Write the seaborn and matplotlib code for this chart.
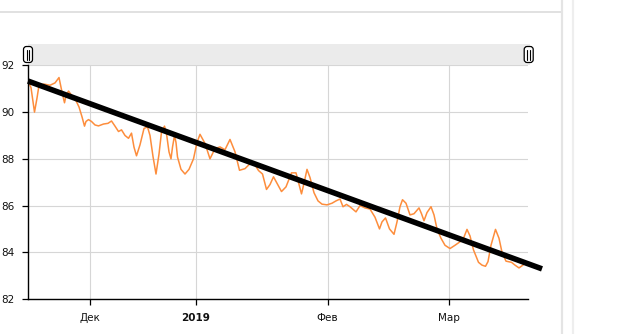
import matplotlib
matplotlib.use("Agg")
import matplotlib.pyplot as plt
from matplotlib.patches import Rectangle, FancyBboxPatch
import seaborn as sns
import pandas as pd

# Price series sampled along the session axis (0..100)
session = [0.0, 0.6, 1.3, 1.8, 2.2, 3.2, 4.4, 5.4, 6.2, 6.8, 7.3, 7.6, 8.1, 8.8, 9.4,
           10.2, 10.8, 11.3, 11.6, 12.1, 12.7, 13.4, 14.1, 15.1, 16.0, 16.7, 17.4, 18.1,
           18.7, 19.4, 20.1, 20.7, 21.2, 21.7, 22.4, 23.2, 23.9, 24.4, 25.0, 25.6, 26.2,
           26.7, 27.3, 27.7, 28.2, 28.6, 28.9, 29.3, 29.6, 29.9, 30.6, 31.4, 32.2, 33.1,
           33.8, 34.4, 35.4, 36.4, 37.4, 38.4, 39.4, 40.4, 41.4, 42.3, 43.4, 44.2, 45.1,
           46.1, 46.9, 47.7, 48.4, 49.1, 49.8, 50.7, 51.6, 52.7, 53.6, 54.2, 54.7, 55.2,
           55.8, 56.4, 57.2, 58.0, 58.8, 59.8, 60.8, 61.6, 62.4, 63.0, 63.7, 64.4, 65.6,
           66.4, 67.4, 68.4, 69.4, 70.3, 70.8, 71.5, 72.3, 73.2, 73.8, 74.4, 74.9, 75.6,
           76.4, 77.2, 78.2, 78.7, 79.2, 79.8, 80.6, 81.2, 81.8, 82.6, 83.4, 84.4, 85.4,
           86.4, 87.1, 87.8, 88.4, 89.1, 90.1, 90.8, 91.5, 92.0, 92.6, 93.5, 94.2, 94.8,
           95.6, 96.7, 97.4, 98.2, 99.1]
price = [91.33, 91.05, 90.0, 90.6, 91.15, 91.2, 91.15, 91.25, 91.48, 90.86, 90.4, 90.7,
         90.9, 90.7, 90.58, 90.22, 89.8, 89.4, 89.6, 89.68, 89.6, 89.45, 89.41, 89.49,
         89.52, 89.62, 89.4, 89.17, 89.24, 89.0, 88.88, 89.1, 88.5, 88.13, 88.6, 89.3,
         89.37, 89.0, 88.1, 87.35, 88.2, 89.15, 89.4, 89.08, 88.3, 88.0, 88.5, 89.0, 88.7,
         88.08, 87.55, 87.35, 87.55, 88.0, 88.7, 89.05, 88.66, 88.0, 88.44, 88.51, 88.39,
         88.83, 88.3, 87.51, 87.58, 87.75, 87.85, 87.5, 87.35, 86.69, 86.9, 87.23, 86.95,
         86.6, 86.8, 87.4, 87.4, 86.9, 86.5, 86.95, 87.55, 87.2, 86.55, 86.2, 86.06, 86.03,
         86.1, 86.2, 86.28, 85.95, 86.05, 85.95, 85.73, 86.0, 85.9, 85.85, 85.5, 85.0, 85.3,
         85.47, 85.0, 84.77, 85.3, 85.95, 86.25, 86.1, 85.6, 85.65, 85.9, 85.65, 85.35,
         85.7, 85.95, 85.6, 85.0, 84.6, 84.3, 84.16, 84.3, 84.45, 84.6, 84.98, 84.7, 84.1,
         83.57, 83.45, 83.4, 83.6, 84.3, 84.98, 84.6, 84.0, 83.62, 83.57, 83.45, 83.33,
         83.47]

# Linear trend endpoints
trend_session = [0.0, 102.8]
trend_price = [91.33, 83.29]

# Axis ticks
y_ticks = [82, 84, 86, 88, 90, 92]
x_tick_pos = [12.3, 33.5, 59.9, 84.1]
x_tick_labels = ["Дек", "2019", "Фев", "Мар"]

df = pd.DataFrame({"session": session, "price": price})
trend = pd.DataFrame({"session": trend_session, "price": trend_price})

sns.set_theme(style="white")
plt.rcParams["font.family"] = ["DejaVu Sans"]

W, H = 636, 334
fig = plt.figure(figsize=(W / 100, H / 100), dpi=100)

# Page chrome and range selector, drawn in pixel coordinates
bg = fig.add_axes([0, 0, 1, 1])
bg.set_xlim(0, W)
bg.set_ylim(H, 0)
bg.axis("off")
bg.plot([0, 561], [12.3, 12.3], color="#dcdcdc", lw=1.2)
bg.plot([561.7, 561.7], [0, H], color="#e4e4e4", lw=1.6)
bg.plot([573.3, 573.3], [0, H], color="#eeeeee", lw=1.6)
bg.add_patch(Rectangle((28, 44), 502, 21, facecolor="#ebebeb", edgecolor="none"))
for cx in (28.0, 528.7):
    bg.add_patch(FancyBboxPatch((cx - 4.5, 46.5), 9, 16, boxstyle="round,pad=0,rounding_size=3",
                                facecolor="white", edgecolor="black", lw=0.9, zorder=3))
    for dx in (-1.3, 1.3):
        bg.plot([cx + dx, cx + dx], [50, 59.5], color="black", lw=0.8, zorder=4)

ax = fig.add_axes([28 / W, 35 / H, 500 / W, 233.6 / H])
ax.set_facecolor("none")

sns.lineplot(data=df, x="session", y="price", ax=ax, color="#fd8d3c", lw=1.1,
             zorder=2)
sns.lineplot(data=trend, x="session", y="price", ax=ax, color="black", lw=4.0,
             zorder=3, clip_on=False, solid_capstyle="butt")

ax.set_xlim(0, 100)
ax.set_ylim(82, 92)
ax.set_xlabel("")
ax.set_ylabel("")
ax.set_yticks(y_ticks)
ax.set_yticklabels([str(v) for v in y_ticks])
ax.set_xticks(x_tick_pos)
ax.set_xticklabels(x_tick_labels)
for lbl in ax.get_xticklabels():
    if lbl.get_text() == "2019":
        lbl.set_fontweight("bold")

ax.grid(True, color="#d6d6d6", lw=0.8)
ax.set_axisbelow(True)
for side in ("top", "right"):
    ax.spines[side].set_visible(False)
for side in ("left", "bottom"):
    ax.spines[side].set_color("black")
    ax.spines[side].set_linewidth(1.0)

ax.tick_params(axis="both", which="major", length=4.2, width=0.9, color="black",
               labelsize=7.5, labelcolor="#111111", direction="out")
ax.tick_params(axis="y", pad=5.5, left=True)
ax.tick_params(axis="x", pad=6.0, bottom=True)

fig.savefig("out.png", dpi=100)
